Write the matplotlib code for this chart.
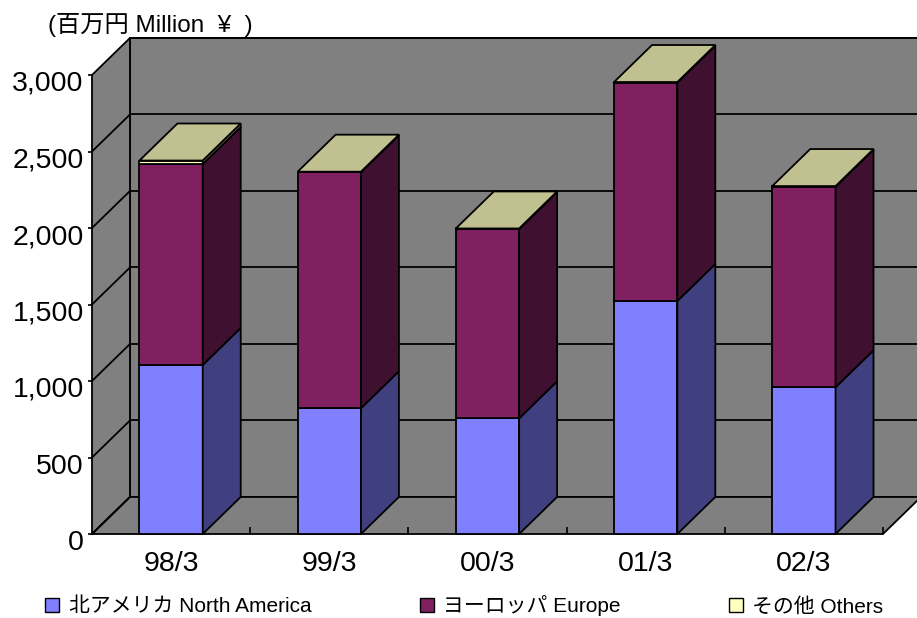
import matplotlib
matplotlib.use("Agg")
import matplotlib.pyplot as plt
from matplotlib.patches import Polygon, Patch
from matplotlib.ticker import FuncFormatter, FixedLocator
import matplotlib.transforms as mtransforms

plt.rcParams['font.family'] = ['Liberation Sans', 'Noto Sans CJK JP', 'DejaVu Sans']

# ---- data ----
categories = ['98/3', '99/3', '00/3', '01/3', '02/3']
north_america = [1105, 822, 756, 1523, 959]
europe = [1313, 1542, 1237, 1427, 1311]
others = [23, 4, 4, 4, 4]
series_labels = ['北アメリカ North America', 'ヨーロッパ Europe', 'その他 Others']
y_ticks = [0, 500, 1000, 1500, 2000, 2500, 3000]
title = '(百万円 Million  ¥  )'

# ---- style ----
front_colors = ['#8080FF', '#802060', '#FFFFC0']
side_colors = ['#404080', '#401030', '#808060']
top_color = '#C0C090'
wall_color = '#808080'
EDGE = 'black'
LW = 1.3
BAR_W = 0.4
DX = 0.24      # depth offset in category units
DY = 242       # depth offset in value units
YMAX = 3000

W, H = 917, 618
fig = plt.figure(figsize=(W / 100, H / 100), dpi=100)
ax = fig.add_axes([92 / W, (H - 534) / H, (883 - 92) / W, (534 - 75) / H])
n = len(categories)
x0, x1 = -0.5, n - 0.5
ax.set_xlim(x0, x1)
ax.set_ylim(0, YMAX)
ax.patch.set_visible(False)
for s in ax.spines.values():
    s.set_visible(False)


def poly(pts, fc, z=1, lw=LW):
    p = Polygon(pts, closed=True, facecolor=fc, edgecolor=EDGE, linewidth=lw,
                clip_on=False, zorder=z, joinstyle='miter')
    ax.add_patch(p)


# walls
poly([(x0 + DX, DY), (x1 + DX, DY), (x1 + DX, YMAX + DY), (x0 + DX, YMAX + DY)], wall_color, 1)
poly([(x0, 0), (x0 + DX, DY), (x0 + DX, YMAX + DY), (x0, YMAX)], wall_color, 1)
poly([(x0, 0), (x1, 0), (x1 + DX, DY), (x0 + DX, DY)], wall_color, 1)

# gridlines
for v in y_ticks[1:]:
    ax.plot([x0 + DX, x1 + DX], [v + DY, v + DY], color=EDGE, lw=LW, clip_on=False, zorder=1.5)
for v in y_ticks[:-1]:
    ax.plot([x0, x0 + DX], [v, v + DY], color=EDGE, lw=LW, clip_on=False, zorder=1.5)

# bars
series = [north_america, europe, others]
for i in range(n):
    left, right = i - BAR_W / 2, i + BAR_W / 2
    base = 0
    for k, vals in enumerate(series):
        top = base + vals[i]
        poly([(left, base), (right, base), (right, top), (left, top)], front_colors[k], 3)
        poly([(right, base), (right + DX, base + DY), (right + DX, top + DY), (right, top)],
             side_colors[k], 3)
        base = top
    poly([(left, base), (right, base), (right + DX, base + DY), (left + DX, base + DY)], top_color, 3)

# axes ticks
ax.yaxis.set_major_locator(FixedLocator(y_ticks))
ax.yaxis.set_major_formatter(FuncFormatter(lambda v, p: f'{int(v):,}'))
ax.tick_params(axis='y', direction='out', length=3, width=1.2, pad=3, labelsize=20.5)
offset = mtransforms.ScaledTranslation(0, -6 / 100, fig.dpi_scale_trans)
for lab in ax.get_yticklabels():
    lab.set_transform(lab.get_transform() + offset)

ax.set_xticks(range(n))
ax.set_xticklabels(categories)
ax.tick_params(axis='x', which='major', length=0, pad=12, labelsize=20.5)
ax.xaxis.set_minor_locator(FixedLocator([i + 0.5 for i in range(n)]))
ax.tick_params(axis='x', which='minor', direction='in', length=5, width=1.2)

fig.text(48 / W, 1 - 25 / H, title, ha='left', va='center', fontsize=17.5)

handles = [Patch(facecolor=c, edgecolor='black', linewidth=1) for c in front_colors]
fig.legend(handles, series_labels, loc='center left', bbox_to_anchor=(45 / W, 1 - 606 / H),
           ncol=3, frameon=False, fontsize=15, handlelength=0.68, handleheight=0.68,
           handletextpad=0.45, columnspacing=5.2, borderpad=0, borderaxespad=0)

fig.savefig('out.png', dpi=100)
